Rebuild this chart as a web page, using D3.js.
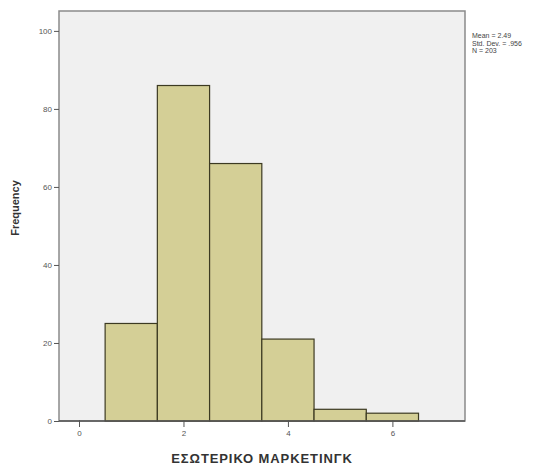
<!DOCTYPE html>
<html><head><meta charset="utf-8">
<script src="https://cdn.jsdelivr.net/npm/d3@7"></script>
<style>body{margin:0;background:#fff}svg{display:block}</style>
</head><body>
<svg id="c" width="552" height="469"></svg>
<script>
const binStarts = [0.5, 1.5, 2.5, 3.5, 4.5, 5.5];
const binWidth = 1;
const frequencies = [25, 86, 66, 21, 3, 2];
const xTicks = [0, 2, 4, 6];
const yTicks = [0, 20, 40, 60, 80, 100];
const statsLines = ["Mean = 2.49", "Std. Dev. = .956", "N = 203"];
const xTitle = "ΕΣΩΤΕΡΙΚΟ ΜΑΡΚΕΤΙΝΓΚ";
const yTitle = "Frequency";

const svg = d3.select("#c");
const L = 59, R = 465, T = 11, B = 421;
const x = d3.scaleLinear().domain([-0.383, 7.39]).range([L, R]);
const y = d3.scaleLinear().domain([0, 105.1]).range([B, T]);

svg.append("rect").attr("x", L).attr("y", T).attr("width", R - L).attr("height", B - T)
  .attr("fill", "#f0f0f0").attr("stroke", "#8a8a8a").attr("stroke-width", 1.5);

svg.append("g").selectAll("rect").data(frequencies).join("rect")
  .attr("x", (d, i) => x(binStarts[i]))
  .attr("width", (d, i) => x(binStarts[i] + binWidth) - x(binStarts[i]))
  .attr("y", d => y(d))
  .attr("height", d => y(0) - y(d))
  .attr("fill", "#d4cf96").attr("stroke", "#3c3a22").attr("stroke-width", 1.2);

const yAxis = svg.append("g").attr("transform", `translate(${L},0)`)
  .call(d3.axisLeft(y).tickValues(yTicks).tickSize(5).tickPadding(2));
yAxis.select(".domain").remove();
yAxis.selectAll("line").attr("stroke", "#555");
yAxis.selectAll("text").attr("font-family", "Liberation Sans, Arial, sans-serif").attr("font-size", 8).attr("fill", "#555");

const xAxis = svg.append("g").attr("transform", `translate(0,${B})`)
  .call(d3.axisBottom(x).tickValues(xTicks).tickSize(6).tickPadding(3));
xAxis.select(".domain").remove();
xAxis.selectAll("line").attr("stroke", "#555").attr("y1", -1);
xAxis.selectAll("text").attr("font-family", "Liberation Sans, Arial, sans-serif").attr("font-size", 8).attr("fill", "#555");

svg.append("line").attr("x1", L).attr("x2", R).attr("y1", B).attr("y2", B).attr("stroke", "#555").attr("stroke-width", 1.5);

svg.append("text").attr("x", (L + R) / 2).attr("y", 463).attr("text-anchor", "middle")
  .attr("font-family", "Liberation Sans, Arial, sans-serif").attr("font-weight", "bold").attr("font-size", 13)
  .attr("letter-spacing", 0.9)
  .attr("fill", "#333").text(xTitle);

svg.append("text").attr("transform", "translate(19,208) rotate(-90)").attr("text-anchor", "middle")
  .attr("font-family", "Liberation Sans, Arial, sans-serif").attr("font-weight", "bold").attr("font-size", 11)
  .attr("fill", "#333").text(yTitle);

svg.append("g").selectAll("text").data(statsLines).join("text")
  .attr("x", 472).attr("y", (d, i) => 38 + i * 7.5)
  .attr("font-family", "Liberation Sans, Arial, sans-serif").attr("font-size", 7).attr("fill", "#444")
  .text(d => d);
</script>
</body></html>
